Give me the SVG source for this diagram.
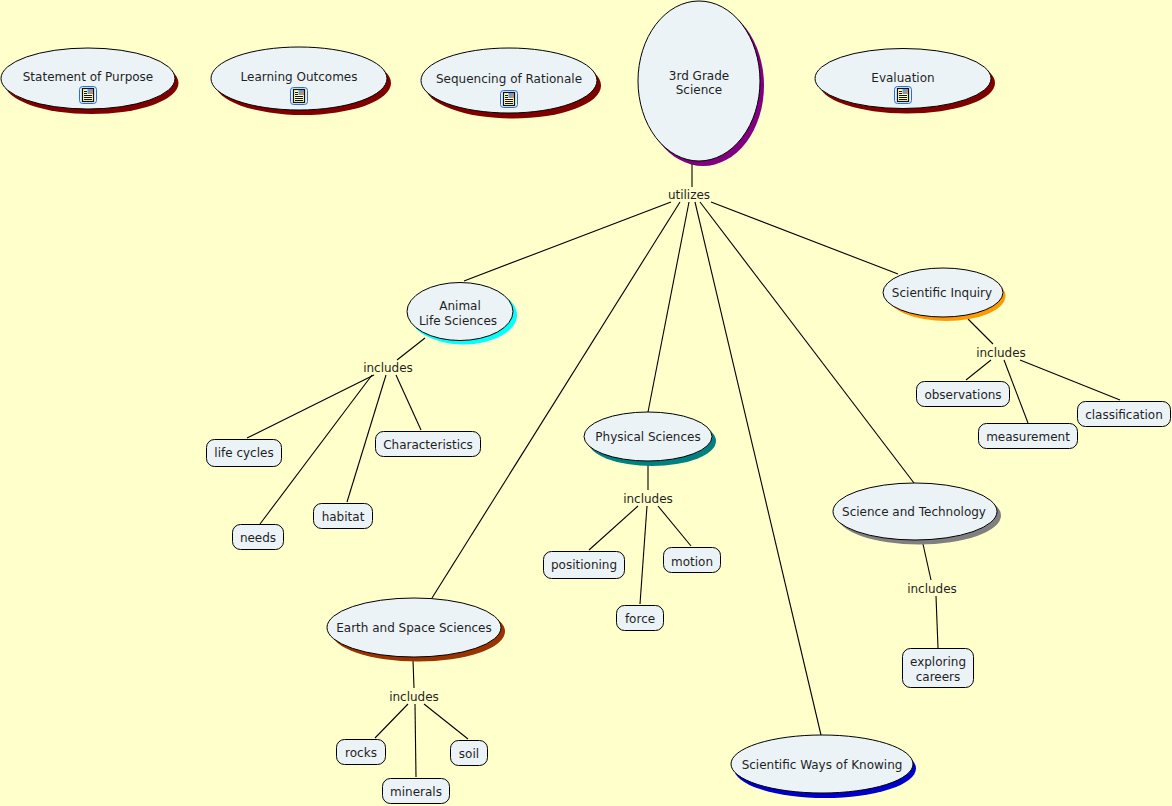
<svg xmlns="http://www.w3.org/2000/svg" width="1172" height="806" viewBox="0 0 1172 806">
<style>
text{font-family:"DejaVu Sans",Verdana,sans-serif;font-size:12px;fill:#1f1f1f;text-anchor:middle}
.n{fill:#ecf3f7;stroke:#000;stroke-width:1}
#connectors line{stroke:#000;stroke-width:1.1}
</style>
<defs>
<g id="doc"><rect x="-8.500" y="-8.500" width="17" height="17" rx="3" fill="#e4f0fa" stroke="#2a6fc9" stroke-width="1"/><rect x="-5.500" y="-6.500" width="11" height="13" fill="#ffffc4" stroke="#111" stroke-width="1.200"/><path d="M-4-3.500h3M-4-1.500h3M-4 .5h8M-4 2.500h8M-4 4.500h8" stroke="#111" stroke-width="1" fill="none"/><rect x="-.500" y="-6" width="5.500" height="5" fill="#6d9bd1"/><rect x="2" y="-4" width="3" height="2.500" fill="#d98a4a"/></g>
</defs>
<rect width="1172" height="806" fill="#ffffcc"/>
<g id="connectors">
<line x1="692" y1="164" x2="692" y2="187"/>
<line x1="671" y1="202" x2="464" y2="281"/>
<line x1="680" y1="202" x2="432" y2="598"/>
<line x1="689" y1="202" x2="648" y2="412"/>
<line x1="695" y1="202" x2="821" y2="735"/>
<line x1="700" y1="202" x2="914" y2="483"/>
<line x1="711" y1="202" x2="898" y2="274"/>
<line x1="425" y1="338" x2="397" y2="360"/>
<line x1="374" y1="375" x2="247" y2="438"/>
<line x1="372" y1="375" x2="260" y2="524"/>
<line x1="386" y1="375" x2="347" y2="502"/>
<line x1="396" y1="375" x2="421" y2="430"/>
<line x1="648" y1="465" x2="648" y2="490"/>
<line x1="638" y1="506" x2="589" y2="550"/>
<line x1="647" y1="506" x2="640" y2="604"/>
<line x1="658" y1="506" x2="691" y2="546"/>
<line x1="413" y1="660" x2="414" y2="688"/>
<line x1="408" y1="704" x2="375" y2="738"/>
<line x1="415" y1="704" x2="416" y2="777"/>
<line x1="424" y1="704" x2="468" y2="739"/>
<line x1="923" y1="544" x2="931" y2="580"/>
<line x1="936" y1="596" x2="938" y2="648"/>
<line x1="968" y1="319" x2="993" y2="344"/>
<line x1="991" y1="360" x2="966" y2="380"/>
<line x1="1004" y1="360" x2="1028" y2="423"/>
<line x1="1020" y1="360" x2="1120" y2="400"/>
</g>
<g id="n-purpose"><ellipse cx="91.500" cy="83" rx="87" ry="31" fill="#800000"/><ellipse class="n" cx="88" cy="78.500" rx="87" ry="30.500"/><text x="88" y="80.500">Statement of Purpose</text><use href="#doc" x="88" y="95"/></g>
<g id="n-outcomes"><ellipse cx="303" cy="83" rx="88" ry="32" fill="#800000"/><ellipse class="n" cx="299" cy="78.500" rx="88" ry="31.500"/><text x="299" y="80.500">Learning Outcomes</text><use href="#doc" x="299" y="96"/></g>
<g id="n-rationale"><ellipse cx="513" cy="85.500" rx="88" ry="33" fill="#800000"/><ellipse class="n" cx="509" cy="80.500" rx="88" ry="32.500"/><text x="509" y="82.500">Sequencing of Rationale</text><use href="#doc" x="509" y="99"/></g>
<g id="n-root"><ellipse cx="703" cy="85.500" rx="61" ry="80.500" fill="#800080"/><ellipse class="n" cx="699" cy="81" rx="61" ry="80"/><text x="699" y="79.500">3rd Grade</text><text x="699" y="93.500">Science</text></g>
<g id="n-evaluation"><ellipse cx="907" cy="83" rx="88" ry="30.500" fill="#800000"/><ellipse class="n" cx="903" cy="78.500" rx="88" ry="30"/><text x="903" y="81.500">Evaluation</text><use href="#doc" x="903" y="95"/></g>
<g id="l-utilizes"><text x="689" y="198.500">utilizes</text></g>
<g id="n-animal"><ellipse cx="463.500" cy="315" rx="53.500" ry="29.500" fill="#00ffff"/><ellipse class="n" cx="460" cy="311.500" rx="53" ry="29"/><text x="460" y="309.500">Animal</text><text x="458" y="324.500">Life Sciences</text></g>
<g id="n-inquiry"><ellipse cx="946.500" cy="296" rx="59" ry="25" fill="#ff9900"/><ellipse class="n" cx="943" cy="292.500" rx="60" ry="24.500"/><text x="942" y="296.500">Scientific Inquiry</text></g>
<g id="l-inc1"><text x="388" y="371.500">includes</text></g>
<g id="l-inc2"><text x="1001" y="356.500">includes</text></g>
<g id="n-lifecycles"><rect class="n" x="206.500" y="439.500" width="75" height="27" rx="8"/><text x="244" y="456.500">life cycles</text></g>
<g id="n-needs"><rect class="n" x="232.500" y="524.500" width="51" height="25" rx="8"/><text x="258" y="541.500">needs</text></g>
<g id="n-habitat"><rect class="n" x="313.500" y="503.500" width="59" height="25" rx="8"/><text x="343" y="520.500">habitat</text></g>
<g id="n-char"><rect class="n" x="375.500" y="431.500" width="105" height="25" rx="8"/><text x="428" y="448.500">Characteristics</text></g>
<g id="n-observations"><rect class="n" x="916.500" y="381.500" width="93" height="25" rx="8"/><text x="963" y="398.500">observations</text></g>
<g id="n-measurement"><rect class="n" x="978.500" y="423.500" width="99" height="25" rx="8"/><text x="1028" y="440.500">measurement</text></g>
<g id="n-classification"><rect class="n" x="1077.500" y="401.500" width="93" height="25" rx="8"/><text x="1124" y="418.500">classification</text></g>
<g id="n-physical"><ellipse cx="652" cy="441" rx="64" ry="25" fill="#008080"/><ellipse class="n" cx="648" cy="436.500" rx="64" ry="24.500"/><text x="648" y="440.500">Physical Sciences</text></g>
<g id="l-inc3"><text x="648" y="502.500">includes</text></g>
<g id="n-positioning"><rect class="n" x="543.500" y="551.500" width="81" height="27" rx="8"/><text x="584" y="568.500">positioning</text></g>
<g id="n-motion"><rect class="n" x="663.500" y="547.500" width="57" height="25" rx="8"/><text x="692" y="565.500">motion</text></g>
<g id="n-force"><rect class="n" x="616.500" y="605.500" width="47" height="25" rx="8"/><text x="640" y="622.500">force</text></g>
<g id="n-tech"><ellipse cx="919" cy="515.500" rx="82" ry="29" fill="#808080"/><ellipse class="n" cx="915" cy="511.500" rx="82" ry="28.500"/><text x="914" y="515.500">Science and Technology</text></g>
<g id="l-inc4"><text x="932" y="592.500">includes</text></g>
<g id="n-careers"><rect class="n" x="902.500" y="648.500" width="71" height="39" rx="8"/><text x="938" y="665.500">exploring</text><text x="938" y="680.500">careers</text></g>
<g id="n-earth"><ellipse cx="418" cy="631.500" rx="87" ry="30" fill="#993300"/><ellipse class="n" cx="414" cy="627.500" rx="87" ry="29.500"/><text x="414" y="631.500">Earth and Space Sciences</text></g>
<g id="l-inc5"><text x="414" y="700.500">includes</text></g>
<g id="n-rocks"><rect class="n" x="336.500" y="739.500" width="49" height="25" rx="8"/><text x="361" y="756.500">rocks</text></g>
<g id="n-minerals"><rect class="n" x="382.500" y="778.500" width="67" height="25" rx="8"/><text x="416" y="795.500">minerals</text></g>
<g id="n-soil"><rect class="n" x="450.500" y="740.500" width="37" height="25" rx="8"/><text x="469" y="757.500">soil</text></g>
<g id="n-knowing"><ellipse cx="825" cy="768.500" rx="91" ry="29.500" fill="#0000cc"/><ellipse class="n" cx="822" cy="764" rx="91" ry="29"/><text x="822" y="768.500">Scientific Ways of Knowing</text></g>
</svg>
